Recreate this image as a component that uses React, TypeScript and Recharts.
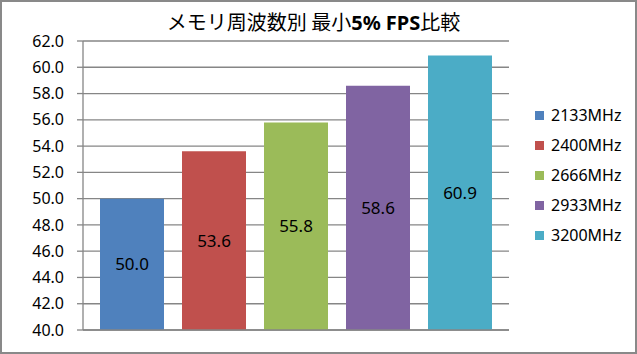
import React from 'react';
import { BarChart, Bar, XAxis, YAxis, CartesianGrid, Legend, LabelList } from 'recharts';

const seriesNames = ['2133MHz', '2400MHz', '2666MHz', '2933MHz', '3200MHz'];
const seriesValues = [50.0, 53.6, 55.8, 58.6, 60.9];
const seriesColors = ['#4F81BD', '#C0504D', '#9BBB59', '#8064A2', '#4BACC6'];
const yTicks = [40, 42, 44, 46, 48, 50, 52, 54, 56, 58, 60, 62];
const titleA = 'メモリ周波数別 最小';
const titleB = '5% FPS';
const titleC = '比較';

const row: Record<string, number | string> = { name: 'min5' };
seriesNames.forEach((n, i) => { row[n] = seriesValues[i]; });
const data = [row];

const FONT = '"Noto Sans", "Noto Sans CJK JP", sans-serif';

const LegendContent = (props: any) => {
  const { payload } = props;
  return (
    <div style={{ fontFamily: FONT, fontSize: 16, color: '#000' }}>
      {(payload || []).map((p: any) => (
        <div key={p.value} style={{ height: 30, display: 'flex', alignItems: 'center' }}>
          <span style={{ display: 'inline-block', width: 9, height: 9, background: p.color, marginRight: 7 }} />
          <span>{p.value}</span>
        </div>
      ))}
    </div>
  );
};

export default function App() {
  return (
    <div style={{ position: 'absolute', left: 0, top: 0, width: 637, height: 354, background: '#fff' }}>
      <div style={{ position: 'absolute', left: 0, top: 0, width: 633, height: 350, border: '2px solid #898989' }} />
      <div style={{ position: 'absolute', left: 0, top: 7, width: 627, textAlign: 'center', fontFamily: '"Noto Sans CJK JP", sans-serif', fontSize: 20, color: '#000', lineHeight: '30px' }}>
        {titleA}<span style={{ fontFamily: '"Noto Sans", sans-serif', fontWeight: 'bold' }}>{titleB}</span>{titleC}
      </div>
      <div style={{ position: 'absolute', left: 0, top: 0 }}>
        <BarChart width={637} height={354} data={data} margin={{ top: 41, right: 128, bottom: 0, left: 0 }} barGap={18} barCategoryGap={17}>
          <CartesianGrid vertical={false} stroke="#868686" strokeWidth={1.3} />
          <XAxis dataKey="name" tick={false} tickLine={false} height={24} axisLine={{ stroke: '#868686', strokeWidth: 1.3 }} />
          <YAxis
            width={83}
            domain={[40, 62]}
            ticks={yTicks}
            interval={0}
            tickFormatter={(v: number) => v.toFixed(1)}
            tick={{ fill: '#000', fontSize: 16, fontFamily: FONT }}
            tickSize={6}
            tickMargin={13}
            axisLine={{ stroke: '#868686', strokeWidth: 1.3 }}
            tickLine={{ stroke: '#868686', strokeWidth: 1.3 }}
          />
          <Legend
            layout="horizontal"
            align="center"
            verticalAlign="middle"
            wrapperStyle={{ position: 'absolute', left: 535, top: 100, width: 100 }}
            content={<LegendContent />}
          />
          {seriesNames.map((n, i) => (
            <Bar key={n} dataKey={n} fill={seriesColors[i]} isAnimationActive={false}>
              <LabelList dataKey={n} position="center" formatter={(v: any) => Number(v).toFixed(1)} fill="#000" fontSize={17} fontFamily={FONT} />
            </Bar>
          ))}
        </BarChart>
      </div>
    </div>
  );
}
